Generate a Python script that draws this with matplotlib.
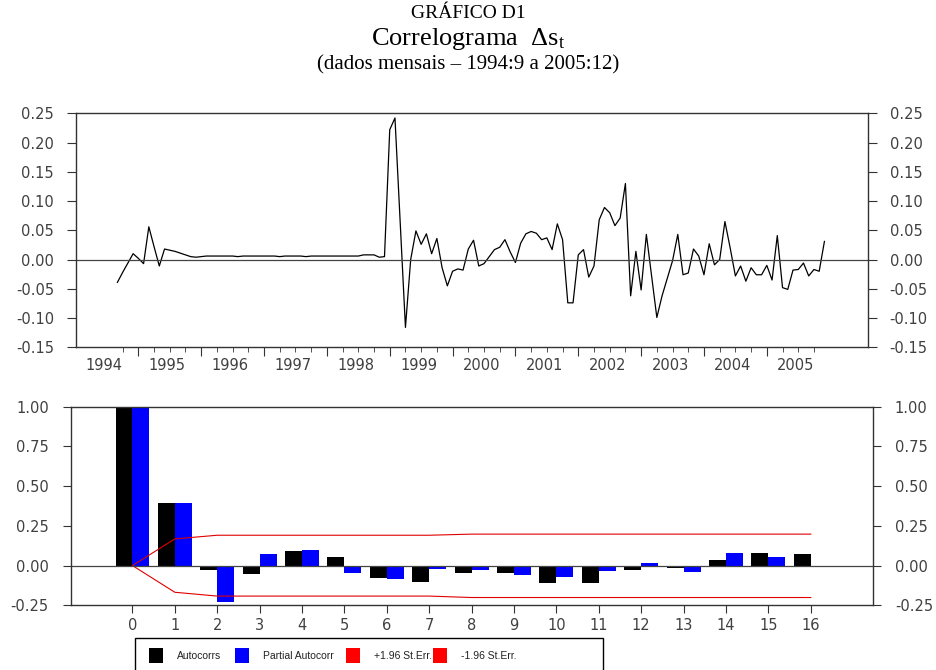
import numpy as np
import matplotlib
matplotlib.use('Agg')
import matplotlib.pyplot as plt
from matplotlib.patches import Rectangle
from matplotlib.ticker import FormatStrFormatter
from matplotlib.transforms import blended_transform_factory

# variacao mensal do cambio (ds), 1994:9 a 2005:12
ds_1994 = [-0.039, -0.022, -0.006, 0.010]
ds_1995 = [0.002, -0.007, 0.056, 0.022, -0.011, 0.018, 0.016, 0.014, 0.011, 0.008, 0.005, 0.004]
ds_1996 = [0.005, 0.006, 0.006, 0.006, 0.006, 0.006, 0.006, 0.005, 0.006, 0.006, 0.006, 0.006]
ds_1997 = [0.006, 0.006, 0.006, 0.005, 0.006, 0.006, 0.006, 0.006, 0.005, 0.006, 0.006, 0.006]
ds_1998 = [0.006, 0.006, 0.006, 0.006, 0.006, 0.006, 0.006, 0.008, 0.008, 0.008, 0.004, 0.005]
ds_1999 = [0.222, 0.242, 0.063, -0.116, 0.000, 0.049, 0.026, 0.044, 0.010, 0.036, -0.014, -0.045]
ds_2000 = [-0.020, -0.016, -0.018, 0.018, 0.033, -0.011, -0.007, 0.005, 0.017, 0.021, 0.034, 0.013]
ds_2001 = [-0.005, 0.028, 0.044, 0.048, 0.045, 0.034, 0.037, 0.017, 0.061, 0.034, -0.074, -0.074]
ds_2002 = [0.008, 0.017, -0.030, -0.011, 0.068, 0.089, 0.080, 0.058, 0.071, 0.130, -0.062, 0.014]
ds_2003 = [-0.052, 0.043, -0.028, -0.099, -0.062, -0.032, -0.002, 0.043, -0.026, -0.023, 0.018, 0.006]
ds_2004 = [-0.026, 0.027, -0.009, 0.000, 0.065, 0.020, -0.028, -0.011, -0.037, -0.014, -0.026, -0.026]
ds_2005 = [-0.010, -0.035, 0.041, -0.048, -0.051, -0.018, -0.017, -0.006, -0.028, -0.017, -0.020, 0.031]

ds = (ds_1994 + ds_1995 + ds_1996 + ds_1997 + ds_1998 + ds_1999
      + ds_2000 + ds_2001 + ds_2002 + ds_2003 + ds_2004 + ds_2005)
datas = 1994 + 8 / 12 + np.arange(len(ds)) / 12
anos = list(range(1994, 2006))

# correlograma
defasagens = np.arange(17)
autocorr = [1.0, 0.395, -0.030, -0.055, 0.092, 0.057, -0.076, -0.103, -0.046,
            -0.046, -0.109, -0.109, -0.025, -0.013, 0.034, 0.078, 0.071]
autocorr_parcial = [1.0, 0.395, -0.229, 0.071, 0.099, -0.046, -0.082, -0.019, -0.025,
                    -0.059, -0.074, -0.032, 0.015, -0.040, 0.078, 0.055, np.nan]
erro_sup = [0.0, 0.168, 0.191, 0.191, 0.191, 0.191, 0.191, 0.191, 0.198,
            0.198, 0.198, 0.198, 0.198, 0.198, 0.198, 0.198, 0.198]
erro_inf = [0.0, -0.168, -0.192, -0.192, -0.192, -0.192, -0.192, -0.192, -0.201,
            -0.201, -0.201, -0.201, -0.201, -0.201, -0.201, -0.201, -0.201]

W, H = 936, 670
plt.rcParams['font.family'] = 'DejaVu Sans'
plt.rcParams['mathtext.fontset'] = 'custom'
plt.rcParams['mathtext.rm'] = 'Liberation Serif'
plt.rcParams['mathtext.it'] = 'Liberation Serif:italic'

cor_eixo = '#333333'
cor_rotulo = '#404040'


def caixa(x0, y0, x1, y1):
    # pixels (origem no topo) -> fracao da figura
    return [x0 / W, 1 - y1 / H, (x1 - x0) / W, (y1 - y0) / H]


fig = plt.figure(figsize=(W / 100, H / 100), dpi=100)

# titulos
serif = 'Liberation Serif'
fig.text(0.5, 1 - 13 / H, 'GRÁFICO D1', ha='center', va='center', family=serif, fontsize=14)
fig.text(0.5, 1 - 39 / H, r'Correlograma  $\Delta\mathrm{s}_\mathrm{t}$', ha='center', va='center',
         family=serif, fontsize=19)
fig.text(0.5, 1 - 65 / H, '(dados mensais – 1994:9 a 2005:12)', ha='center', va='center',
         family=serif, fontsize=15)

# serie temporal
ax1 = fig.add_axes(caixa(75.5, 113.3, 868, 347.3))
ax1.plot(datas, ds, color='black', lw=0.9)
ax1.axhline(0, color='#444444', lw=0.9)
ax1.set_xlim(1994.0, 2006.61)
ax1.set_ylim(-0.15, 0.25)
ax1.set_yticks(np.arange(-0.15, 0.2501, 0.05))
ax1.yaxis.set_major_formatter(FormatStrFormatter('%.2f'))
ax1.set_xticks(range(1995, 2006))
ax1.set_xticks([a + q for a in range(1994, 2006) for q in (0.25, 0.5, 0.75)
                if 1994.7 < a + q < 2005.8], minor=True)
ax1.tick_params(axis='x', which='major', direction='out', length=6.5, labelbottom=False, color=cor_eixo)
ax1.tick_params(axis='x', which='minor', direction='out', length=3.5, color=cor_eixo)
ax1.tick_params(axis='y', left=True, right=True, labelleft=True, labelright=True,
                direction='out', length=6.5, pad=9, labelsize=10.5,
                color=cor_eixo, labelcolor=cor_rotulo)
trans = blended_transform_factory(ax1.transData, ax1.transAxes)
for a in anos:
    ax1.text(a + 0.46, -0.045, str(a), transform=trans, ha='center', va='top',
             fontsize=10.5, color=cor_rotulo)

# correlograma
ax2 = fig.add_axes(caixa(71, 406.7, 872.7, 605.3))
ax2.bar(defasagens - 0.2, autocorr, width=0.4, color='black', linewidth=0)
ax2.bar(defasagens + 0.2, autocorr_parcial, width=0.4, color='#0000ff', linewidth=0)
ax2.plot(defasagens, erro_sup, color='#e00000', lw=0.8)
ax2.plot(defasagens, erro_inf, color='#e00000', lw=0.8)
ax2.axhline(0, color='#444444', lw=0.9)
ax2.set_xlim(-1.45, 17.46)
ax2.set_ylim(-0.25, 1.0)
ax2.set_yticks([-0.25, 0.0, 0.25, 0.5, 0.75, 1.0])
ax2.yaxis.set_major_formatter(FormatStrFormatter('%.2f'))
ax2.set_xticks(defasagens)
ax2.tick_params(axis='x', direction='out', length=6, pad=3, labelsize=10.5,
                color=cor_eixo, labelcolor=cor_rotulo)
ax2.tick_params(axis='y', left=True, right=True, labelleft=True, labelright=True,
                direction='out', length=6, pad=10, labelsize=10.5,
                color=cor_eixo, labelcolor=cor_rotulo)

for ax in (ax1, ax2):
    for s in ax.spines.values():
        s.set_color(cor_eixo)
        s.set_linewidth(1.0)

# legenda desenhada a mao, como no original
fig.patches.append(Rectangle((135 / W, 1 - 672 / H), (603 - 135) / W, (672 - 638) / H,
                             transform=fig.transFigure, fill=False, edgecolor='black', lw=1.0))
itens = [('Autocorrs', 'black'), ('Partial Autocorr', '#0000ff'),
         ('+1.96 St.Err.', '#ff0000'), ('-1.96 St.Err.', '#ff0000')]
pos_x = [149, 235, 346, 433]
for (rotulo, cor), x in zip(itens, pos_x):
    fig.patches.append(Rectangle((x / W, 1 - 663 / H), 14 / W, 15 / H,
                                 transform=fig.transFigure, facecolor=cor, edgecolor='none'))
    fig.text((x + 28) / W, 1 - 656 / H, rotulo, ha='left', va='center',
             family='Liberation Sans', fontsize=7.5, color='#222222')

fig.savefig('out.png', dpi=100)
